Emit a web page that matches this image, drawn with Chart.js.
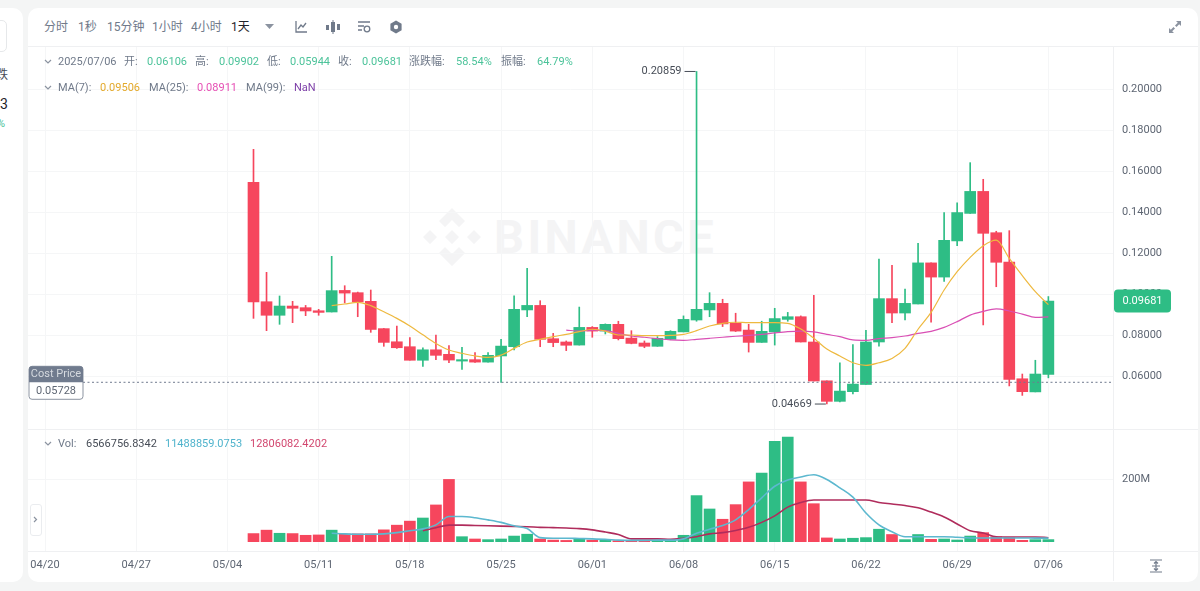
<!DOCTYPE html>
<html>
<head>
<meta charset="utf-8">
<title>K线</title>
<script src="https://cdn.jsdelivr.net/npm/chart.js@4"></script>
<style>
  html, body { margin: 0; padding: 0; }
  body { width: 1200px; height: 591px; background: #f4f5f5; overflow: hidden; position: relative;
    font-family: Roboto, "Noto Sans CJK SC", sans-serif; font-size: 11px; color: #707a8a; }
  .side { position: absolute; left: -12px; top: 8px; width: 35px; height: 574px; background: #fff; border-radius: 10px; }
  .card { position: absolute; left: 28px; top: 8px; width: 1170px; height: 574px; background: #fff; border-radius: 10px; }
  .t { position: absolute; white-space: nowrap; line-height: 16px; }
  .bar { font-size: 12px; }
  .up { color: #4cc39a; }
  .line { position: absolute; background: #eff0f2; }
  canvas { position: absolute; display: block; }
  svg { position: absolute; }
  .mark { position: absolute; left: 494px; top: 207px; font: bold 47px Roboto, sans-serif; letter-spacing: 3.4px; color: #f4f4f5; line-height: 60px; }
</style>
</head>
<body>
<div class="side"></div>
<div class="card"></div>

<!-- 左侧面板 -->
<div style="position:absolute;left:-10px;top:20px;width:15px;height:30px;border:1px solid #e6e8ea;border-radius:5px"></div>
<span class="t" style="left:-4px;top:67px;color:#474d57;font-size:12px">跌</span>
<span class="t" style="left:0;top:96px;color:#1e2329;font-size:14px">3</span>
<span class="t up" style="left:-3px;top:116px">%</span>

<!-- 工具栏 -->
<span class="t bar" style="left:44px;top:19px">分时</span>
<span class="t bar" style="left:78px;top:19px">1秒</span>
<span class="t bar" style="left:107px;top:19px">15分钟</span>
<span class="t bar" style="left:152px;top:19px">1小时</span>
<span class="t bar" style="left:191px;top:19px">4小时</span>
<span class="t bar" style="left:231px;top:19px;color:#1e2329">1天</span>
<svg style="left:265px;top:24px" width="9" height="6"><path d="M0 0H9L4.5 5Z" fill="#8b93a0"/></svg>
<svg style="left:294px;top:20px" width="14" height="14" fill="none" stroke="#707a8a" stroke-width="1.3"><path d="M2 1V12H13M4 9L7 5L9 7L12 3"/></svg>
<svg style="left:325px;top:20px" width="16" height="14" fill="#707a8a"><rect x="1" y="5" width="3" height="5"/><rect x="6" y="2" width="4" height="10"/><rect x="12" y="4" width="3" height="6"/><rect x="7.5" y="0" width="1" height="14"/></svg>
<svg style="left:357px;top:20px" width="14" height="14" fill="none" stroke="#707a8a" stroke-width="1.3"><path d="M1 2H13M1 6H7M1 10H5"/><circle cx="10" cy="9" r="2.8"/></svg>
<svg style="left:389px;top:20px" width="14" height="14"><path d="M7 0.5L12.6 3.7V10.3L7 13.5L1.4 10.3V3.7Z" fill="#707a8a"/><circle cx="7" cy="7" r="2.2" fill="#fff"/></svg>
<svg style="left:1168px;top:20px" width="14" height="14" fill="#8b93a0"><path d="M8 1H13V6L11.2 4.2L8.5 7L7 5.5L9.8 2.8ZM6 13H1V8L2.8 9.8L5.5 7L7 8.5L4.2 11.2Z"/></svg>

<!-- 水印 -->
<svg style="left:423px;top:208px" width="58" height="58" fill="#f4f4f5"><path d="M29 0L42 13L36 19L29 12L22 19L16 13ZM0 29L7 22L14 29L7 36ZM22 29L29 22L36 29L29 36ZM44 29L51 22L58 29L51 36ZM16 45L22 39L29 46L36 39L42 45L29 58Z"/></svg>
<div class="mark">BINANCE</div>

<canvas id="priceChart" width="1168" height="382" style="left:28px;top:47px"></canvas>
<canvas id="volChart" width="1168" height="153" style="left:28px;top:429px"></canvas>

<div class="line" style="left:28px;top:46px;width:1170px;height:1px"></div>
<div class="line" style="left:28px;top:429px;width:1170px;height:1px"></div>
<div class="line" style="left:28px;top:551px;width:1170px;height:1px"></div>
<div class="line" style="left:1113px;top:47px;width:1px;height:534px"></div>

<!-- 行情信息 -->
<svg style="left:44px;top:59px" width="8" height="6" fill="none" stroke="#8b93a0" stroke-width="1.2"><path d="M1 1L4 4L7 1"/></svg>
<span class="t" style="left:58px;top:54px">2025/07/06</span>
<span class="t" style="left:124px;top:54px">开:</span><span class="t up" style="left:147px;top:54px">0.06106</span>
<span class="t" style="left:195px;top:54px">高:</span><span class="t up" style="left:219px;top:54px">0.09902</span>
<span class="t" style="left:267px;top:54px">低:</span><span class="t up" style="left:290px;top:54px">0.05944</span>
<span class="t" style="left:338px;top:54px">收:</span><span class="t up" style="left:362px;top:54px">0.09681</span>
<span class="t" style="left:409px;top:54px">涨跌幅:</span><span class="t up" style="left:456px;top:54px">58.54%</span>
<span class="t" style="left:501px;top:54px">振幅:</span><span class="t up" style="left:537px;top:54px">64.79%</span>

<svg style="left:44px;top:85px" width="8" height="6" fill="none" stroke="#8b93a0" stroke-width="1.2"><path d="M1 1L4 4L7 1"/></svg>
<span class="t" style="left:58px;top:80px">MA(7):</span><span class="t" style="left:100px;top:80px;color:#e3a92b">0.09506</span>
<span class="t" style="left:149px;top:80px">MA(25):</span><span class="t" style="left:197px;top:80px;color:#e64fb4">0.08911</span>
<span class="t" style="left:246px;top:80px">MA(99):</span><span class="t" style="left:294px;top:80px;color:#7d3fa8">NaN</span>

<svg style="left:44px;top:441px" width="8" height="6" fill="none" stroke="#8b93a0" stroke-width="1.2"><path d="M1 1L4 4L7 1"/></svg>
<span class="t" style="left:58px;top:436px">Vol:</span>
<span class="t" style="left:86px;top:436px;color:#474d57">6566756.8342</span>
<span class="t" style="left:165px;top:436px;color:#4fb3cc">11488859.0753</span>
<span class="t" style="left:250px;top:436px;color:#d2476f">12806082.4202</span>

<div style="position:absolute;left:30px;top:504px;width:10px;height:30px;background:#fff;border:1px solid #eaecef;border-radius:3px"></div>
<svg style="left:33px;top:516px" width="5" height="7" fill="none" stroke="#8b93a0" stroke-width="1.2"><path d="M1 1L3.5 3.5L1 6"/></svg>
<svg style="left:1149px;top:559px" width="14" height="14" fill="none" stroke="#707a8a" stroke-width="1.2"><path d="M1 1H13M1 13H13M3 7H11M7 2.5V11.5M5 4.5L7 2.5L9 4.5M5 9.5L7 11.5L9 9.5"/></svg>

<script>
const firstDay = 16; // 05/06 相对 04/20 的天数
const dates = [
  '05/06','05/07','05/08','05/09','05/10','05/11','05/12','05/13','05/14','05/15','05/16','05/17','05/18','05/19','05/20','05/21','05/22','05/23','05/24','05/25','05/26','05/27','05/28','05/29','05/30','05/31',
  '06/01','06/02','06/03','06/04','06/05','06/06','06/07','06/08','06/09','06/10','06/11','06/12','06/13','06/14','06/15','06/16','06/17','06/18','06/19','06/20','06/21','06/22','06/23','06/24','06/25','06/26','06/27','06/28','06/29','06/30',
  '07/01','07/02','07/03','07/04','07/05','07/06'
];
const opens = [
  .1546,.0965,.0899,.0944,.0936,.0921,.0915,.1020,.1009,.0967,.0834,.0770,.0746,.0680,.0731,.0709,.0676,.0683,.0671,.0701,.0746,.0925,.0947,.0785,.0769,.0754,
  .0840,.0822,.0855,.0788,.0764,.0748,.0782,.0818,.0876,.0925,.0957,.0860,.0827,.0767,.0818,.0879,.0892,.0769,.0580,.0480,.0527,.0562,.0769,.0980,.0910,.0954,.1154,.1085,.1261,.1395,
  .1502,.1301,.1158,.0590,.0526,.06106
];
const highs = [
  .1707,.1108,.0993,.0967,.0947,.0928,.1186,.1043,.1012,.1022,.0835,.0847,.0791,.0740,.0803,.0751,.0743,.0717,.0718,.0782,.0994,.1127,.0970,.0811,.0774,.0939,
  .0844,.0857,.0870,.0824,.0774,.0795,.0824,.0896,.20859,.1009,.0977,.0909,.0855,.0870,.0933,.0913,.0896,.0996,.0580,.0668,.0756,.0826,.1173,.1142,.1027,.1249,.1154,.1399,.1447,.1642,
  .1561,.1308,.1311,.0613,.0680,.09902
];
const lows = [
  .0884,.0824,.0855,.0863,.0897,.0899,.0915,.0959,.0892,.0816,.0748,.0738,.0680,.0650,.0683,.0668,.0636,.0670,.0671,.0572,.0730,.0892,.0746,.0746,.0727,.0754,
  .0792,.0808,.0779,.0760,.0741,.0748,.0780,.0818,.0870,.0892,.0844,.0820,.0720,.0767,.0754,.0870,.0769,.0579,.04669,.0477,.0516,.0562,.0749,.0863,.0876,.0954,.0866,.1064,.1238,.1395,
  .0852,.1038,.0555,.0509,.0526,.05944
];
const closes = [
  .0964,.0899,.0944,.0933,.0920,.0913,.1019,.1007,.0964,.0830,.0767,.0741,.0680,.0731,.0704,.0681,.0683,.0671,.0704,.0749,.0928,.0947,.0782,.0766,.0753,.0840,
  .0822,.0855,.0785,.0762,.0748,.0787,.0821,.0879,.0928,.0957,.0857,.0822,.0767,.0821,.0883,.0892,.0769,.0579,.0480,.0530,.0564,.0769,.0980,.0910,.0957,.1154,.1085,.1264,.1399,.1502,
  .1298,.1157,.0587,.0527,.0613,.09681
];
const ma7 = [
  null,null,null,null,null,null,
  .0946,.0954,.0962,.0946,.0916,.0884,.0847,.0804,.0762,.0730,.0714,.0701,.0694,.0705,.0738,.0769,.0782,.0795,.0806,.0819,
  .0831,.0822,.0803,.0803,.0800,.0800,.0801,.0806,.0824,.0847,.0860,.0865,.0863,.0863,.0863,.0860,.0832,.0787,.0735,.0701,.0668,.0655,.0668,.0689,.0738,.0831,.0913,.1022,.1111,.1181,
  .1238,.1265,.1176,.1092,.1014,.09506
];
const ma25 = [
  null,null,null,null,null,null,null,null,null,null,null,null,null,null,null,null,null,null,null,null,null,null,null,null,
  .0827,.0822,
  .0827,.0824,.0811,.0798,.0792,.0785,.0779,.0777,.0782,.0787,.0792,.0797,.0801,.0806,.0813,.0819,.0822,.0818,.0806,.0795,.0779,.0777,.0785,.0790,.0798,.0811,.0821,.0840,.0868,.0900,
  .0918,.0930,.0920,.0905,.0889,.08911
];
// 成交量, 单位 M
const vols = [
  26,37,27,26,20.5,21.6,37,25,25,25,38,53,66,76,118,200,16,8.6,6.5,8.6,18,24,8.6,5,4,7.5,
  5,7.5,3,4,3,3.5,5,20.5,148,105,72,119,192,220,322,336,192,122,12,8.6,11,13,40,23,6.5,23,7.5,8.6,5.4,18,
  29,16,14,4.3,6.5,6.57
];
const volMaShort = [
  null,null,null,null,null,null,
  27,25,24,24,25,29,35,41,54,81,81,77,70,62,51,42,13,11,11,10,
  9,7.5,5,4,4,5,5,9,27,40,52,70,103,141,178,198,208,215,200,173,143,92,54,32,16,16,16,16,14,12,
  12,12,12,12,11.5,11.49
];
const volMaLong = [
  null,null,null,null,null,null,null,null,null,null,null,null,null,
  35,45,53,53,52,51,50,49,48,46,45,44,42,
  38,31,23,9,9,9,7.5,11,16,25,29,36,46,62,83,111,126,134,134,134,134,134,126,121,116,109,95,79,57,35,
  28,16,15,15,15,12.8
];
const tickLabels = ['04/20','04/27','05/04','05/11','05/18','05/25','06/01','06/08','06/15','06/22','06/29','07/06'];
const priceTicks = [0.06, 0.08, 0.10, 0.12, 0.14, 0.16, 0.18, 0.20];
const volTicks = [200];
const lastPrice = 0.09681;
const costPrice = 0.05728;

const GREEN = '#2ebd85', RED = '#f6465d', GRID = '#f5f6f7';
const FONT = { family: 'Roboto, "Noto Sans CJK SC", sans-serif', size: 11 };
const xMin = -1.305, xMax = 81.96;

const dayX = i => firstDay + i;
const dirColor = dates.map((d, i) => closes[i] >= opens[i] ? GREEN : RED);
const series = arr => arr.map((v, i) => ({ x: dayX(i), y: v }));

// 刻度文字不要挤占绘图区
const noPadding = s => { s.paddingTop = s.paddingBottom = s.paddingLeft = s.paddingRight = 0; };

function xScale(showLabels) {
  return {
    type: 'linear', min: xMin, max: xMax, offset: false,
    afterBuildTicks: s => { s.ticks = tickLabels.map((t, i) => ({ value: i * 7 })); },
    afterFit: s => { s.height = showLabels ? 31 : 0; noPadding(s); },
    grid: { color: GRID, drawTicks: false, offset: false },
    border: { display: false },
    ticks: {
      display: showLabels, autoSkip: false, maxRotation: 0, padding: 8,
      color: '#5e6673', font: FONT,
      callback: (v, i) => tickLabels[i]
    }
  };
}
function yScale(min, max, tickList, fmt) {
  return {
    type: 'linear', position: 'right', min: min, max: max,
    afterBuildTicks: s => { s.ticks = tickList.map(v => ({ value: v })); },
    afterFit: s => { s.width = 83; noPadding(s); },
    grid: { color: GRID, drawTicks: false },
    border: { display: false },
    ticks: { crossAlign: 'near', padding: 9, color: '#5e6673', font: FONT, callback: fmt }
  };
}

// 最高/最低价标注, 现价标签, 成本价
const pricePlugin = {
  id: 'pricePlugin',
  afterDatasetsDraw(chart) {
    const c = chart.ctx, xs = chart.scales.x, ys = chart.scales.y;
    c.save();
    c.font = '11px ' + FONT.family;
    c.textBaseline = 'middle';

    // 成本线
    const costY = ys.getPixelForValue(costPrice);
    c.strokeStyle = '#6f7a8e'; c.lineWidth = 1; c.setLineDash([2, 2.5]);
    c.beginPath(); c.moveTo(55, costY); c.lineTo(chart.chartArea.right, costY); c.stroke();
    c.setLineDash([]);

    // 高低点
    const hiI = highs.indexOf(Math.max(...highs)), loI = lows.indexOf(Math.min(...lows));
    [[hiI, highs[hiI]], [loI, lows[loI]]].forEach(([i, v]) => {
      const px = xs.getPixelForValue(dayX(i)), py = ys.getPixelForValue(v);
      c.strokeStyle = '#474d57'; c.beginPath();
      c.moveTo(px - 12, py); c.lineTo(px - 1, py); c.stroke();
      c.fillStyle = '#474d57'; c.textAlign = 'right';
      c.fillText(v.toFixed(5), px - 15, py);
    });

    // 成本价框
    c.fillStyle = '#fff'; c.strokeStyle = '#8b93a0';
    c.beginPath(); c.roundRect(1, costY - 16, 54, 33, 3); c.fill(); c.stroke();
    c.fillStyle = '#707b8e';
    c.beginPath(); c.roundRect(1, costY - 16, 54, 16, [3, 3, 0, 0]); c.fill();
    c.textAlign = 'center';
    c.fillStyle = '#d5d9df'; c.fillText('Cost Price', 28, costY - 8);
    c.fillStyle = '#5e6673'; c.fillText(costPrice.toFixed(5), 28, costY + 9);

    // 现价标签
    const lastY = ys.getPixelForValue(lastPrice);
    c.fillStyle = GREEN;
    c.beginPath(); c.roundRect(1086, lastY - 11.5, 57, 23, 4); c.fill();
    c.fillStyle = '#fff';
    c.fillText(lastPrice.toFixed(5), 1114.5, lastY);
    c.restore();
  }
};

new Chart(document.getElementById('priceChart'), {
  type: 'bar',
  data: {
    datasets: [
      { type: 'line', data: series(ma7), borderColor: '#eeb93f', borderWidth: 1.2, pointRadius: 0, cubicInterpolationMode: 'monotone', order: 0 },
      { type: 'line', data: series(ma25), borderColor: '#d94fb4', borderWidth: 1.2, pointRadius: 0, cubicInterpolationMode: 'monotone', order: 0 },
      { data: dates.map((d, i) => ({ x: dayX(i), y: [opens[i], closes[i]] })), backgroundColor: dirColor, barThickness: 11, grouped: false, order: 1 },
      { data: dates.map((d, i) => ({ x: dayX(i), y: [lows[i], highs[i]] })), backgroundColor: dirColor, barThickness: 1, grouped: false, order: 2 }
    ]
  },
  options: {
    responsive: false, animation: false,
    layout: { padding: 0 },
    plugins: { legend: { display: false }, tooltip: { enabled: false } },
    scales: {
      x: xScale(false),
      y: yScale(0.03454, 0.2205, priceTicks, v => v.toFixed(5))
    }
  },
  plugins: [pricePlugin]
});

new Chart(document.getElementById('volChart'), {
  type: 'bar',
  data: {
    datasets: [
      { type: 'line', data: series(volMaShort), borderColor: '#5cb8cf', borderWidth: 1.6, pointRadius: 0, cubicInterpolationMode: 'monotone', order: 0 },
      { type: 'line', data: series(volMaLong), borderColor: '#b02c5c', borderWidth: 1.6, pointRadius: 0, cubicInterpolationMode: 'monotone', order: 0 },
      { data: series(vols), backgroundColor: dirColor, barThickness: 11, grouped: false, order: 1 }
    ]
  },
  options: {
    responsive: false, animation: false,
    layout: { padding: 0 },
    plugins: { legend: { display: false }, tooltip: { enabled: false } },
    scales: {
      x: xScale(true),
      y: yScale(-30, 362, volTicks, v => v + 'M')
    }
  }
});
</script>
</body>
</html>
